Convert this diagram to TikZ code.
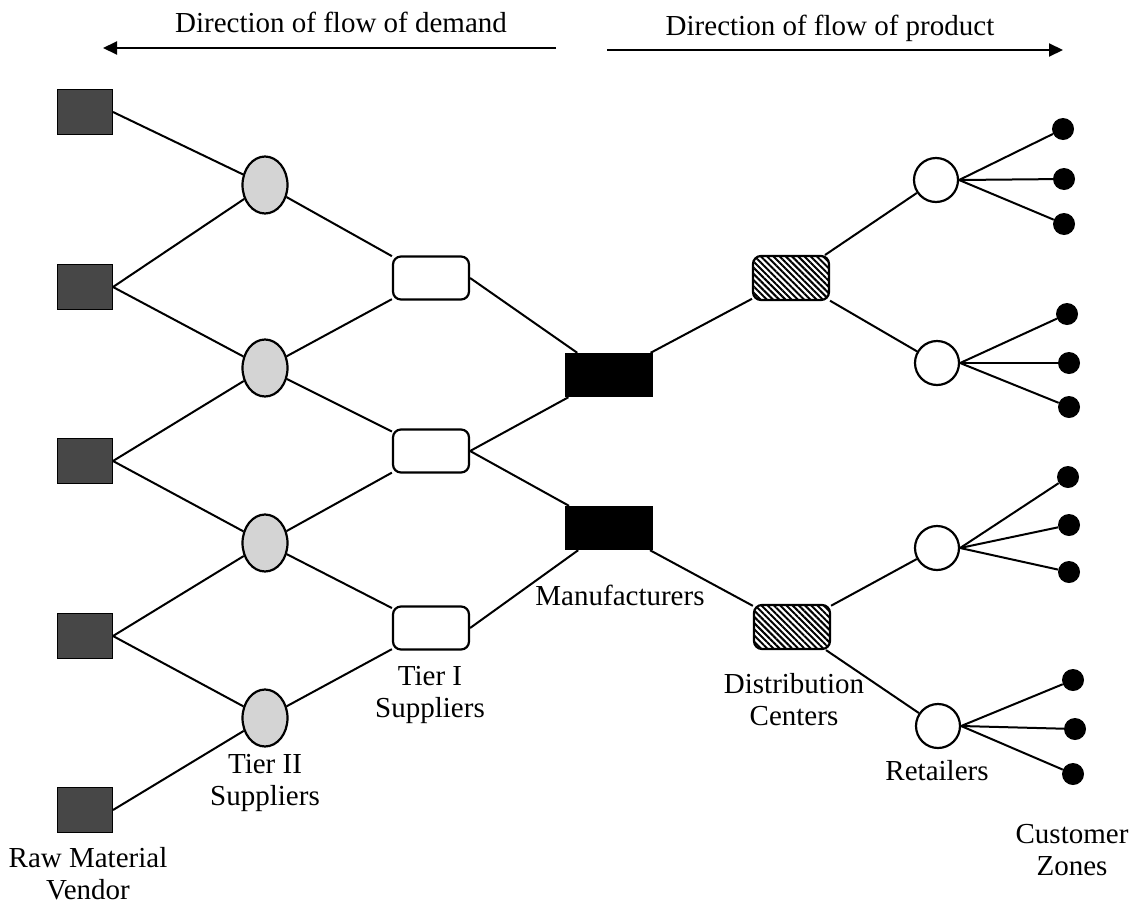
\documentclass[tikz,border=0pt]{standalone}
\usepackage{fontspec}
\setmainfont{Liberation Serif}
\usetikzlibrary{arrows.meta,patterns.meta,shapes.geometric}

\begin{document}
\begin{tikzpicture}[x=1pt,y=-1pt,
  conn/.style={line width=2pt},
  vendor/.style={draw=black, line width=1pt, fill=black!72, minimum width=55pt, minimum height=45pt, inner sep=0pt},
  tiertwo/.style={ellipse, draw, line width=2.2pt, fill=black!17, minimum width=45pt, minimum height=57pt, inner sep=0pt},
  tierone/.style={rectangle, rounded corners=8pt, draw, line width=2.2pt, fill=white, minimum width=76pt, minimum height=43pt, inner sep=0pt},
  maker/.style={rectangle, fill=black, minimum width=88pt, minimum height=44pt, inner sep=0pt},
  depot/.style={rectangle, rounded corners=8pt, draw, line width=2.2pt, pattern={Lines[angle=-45,distance=4.4pt,line width=2pt]}, minimum width=76pt, minimum height=44pt, inner sep=0pt},
  shop/.style={circle, draw, line width=2.2pt, fill=white, minimum size=44pt, inner sep=0pt},
  zone/.style={circle, fill=black, minimum size=22pt, inner sep=0pt},
  lbl/.style={font=\fontsize{29}{32}\selectfont, align=center, inner sep=0pt},
  flow/.style={line width=2pt, -{Triangle[length=14pt,width=13pt]}}
]
\useasboundingbox (0,0) rectangle (1137,908);

% flow direction arrows and captions
\node[lbl] (demand) at (341,22) {Direction of flow of demand};
\node[lbl] (product) at (830,28) {Direction of flow of product};
\coordinate (da1) at (556,48);
\coordinate (da2) at (103,48);
\coordinate (dp1) at (607,50);
\coordinate (dp2) at (1063,50);
\draw[flow] (da1) -- (da2);
\draw[flow] (dp1) -- (dp2);

% raw material vendors
\node[vendor] (raw1) at (85,112) {};
\node[vendor] (raw2) at (85,287) {};
\node[vendor] (raw3) at (85,461) {};
\node[vendor] (raw4) at (85,636) {};
\node[vendor] (raw5) at (85,810) {};

% tier II suppliers
\node[tiertwo] (t2a) at (265,185) {};
\node[tiertwo] (t2b) at (265,368) {};
\node[tiertwo] (t2c) at (265,543) {};
\node[tiertwo] (t2d) at (265,718) {};

% tier I suppliers
\node[tierone] (t1a) at (431,278) {};
\node[tierone] (t1b) at (431,451) {};
\node[tierone] (t1c) at (431,628) {};

% manufacturers
\node[maker] (m1) at (609,375) {};
\node[maker] (m2) at (609,528) {};

% distribution centers
\node[depot] (dc1) at (791,278) {};
\node[depot] (dc2) at (792,627) {};

% retailers
\node[shop] (ret1) at (936,180) {};
\node[shop] (ret2) at (937,363) {};
\node[shop] (ret3) at (937,548) {};
\node[shop] (ret4) at (938,726) {};

% customer zones
\node[zone] (c1a) at (1063,129) {};
\node[zone] (c1b) at (1064,179) {};
\node[zone] (c1c) at (1064,224) {};
\node[zone] (c2a) at (1067,314) {};
\node[zone] (c2b) at (1069,363) {};
\node[zone] (c2c) at (1069,407) {};
\node[zone] (c3a) at (1068,477) {};
\node[zone] (c3b) at (1069,525) {};
\node[zone] (c3c) at (1069,572) {};
\node[zone] (c4a) at (1073,680) {};
\node[zone] (c4b) at (1075,729) {};
\node[zone] (c4c) at (1073,774) {};

% vendor -> tier II links
\draw[conn] (raw1.east) -- (t2a);
\draw[conn] (raw2.east) -- (t2a);
\draw[conn] (raw2.east) -- (t2b);
\draw[conn] (raw3.east) -- (t2b);
\draw[conn] (raw3.east) -- (t2c);
\draw[conn] (raw4.east) -- (t2c);
\draw[conn] (raw4.east) -- (t2d);
\draw[conn] (raw5.east) -- (t2d);

% tier II -> tier I links
\draw[conn] (t2a) -- (t1a);
\draw[conn] (t2b) -- (t1a);
\draw[conn] (t2b) -- (t1b);
\draw[conn] (t2c) -- (t1b);
\draw[conn] (t2c) -- (t1c);
\draw[conn] (t2d) -- (t1c);

% tier I -> manufacturer links
\draw[conn] (t1a.east) -- (m1);
\draw[conn] (t1b.east) -- (m1);
\draw[conn] (t1b.east) -- (m2);
\draw[conn] (t1c.east) -- (m2);

% manufacturer -> distribution links
\draw[conn] (m1) -- (dc1);
\draw[conn] (m2) -- (dc2);

% distribution -> retailer links
\draw[conn] (dc1) -- (ret1);
\draw[conn] (dc1) -- (ret2);
\draw[conn] (dc2) -- (ret3);
\draw[conn] (dc2) -- (ret4);

% retailer -> customer links
\foreach \r/\c in {ret1/c1a,ret1/c1b,ret1/c1c,ret2/c2a,ret2/c2b,ret2/c2c,
                   ret3/c3a,ret3/c3b,ret3/c3c,ret4/c4a,ret4/c4b,ret4/c4c}
  \draw[conn] (\r.east) -- (\c);

% stage labels
\node[lbl] (lraw) at (88,874) {Raw Material\\Vendor};
\node[lbl] (lt2) at (265,783) {Tier II\\Suppliers};
\node[lbl] (lt1) at (430,695) {Tier I\\Suppliers};
\node[lbl] (lman) at (620,595) {Manufacturers};
\node[lbl] (ldc) at (794,700) {Distribution\\Centers};
\node[lbl] (lret) at (937,771) {Retailers};
\node[lbl] (lcz) at (1072,850) {Customer\\Zones};
\end{tikzpicture}
\end{document}
